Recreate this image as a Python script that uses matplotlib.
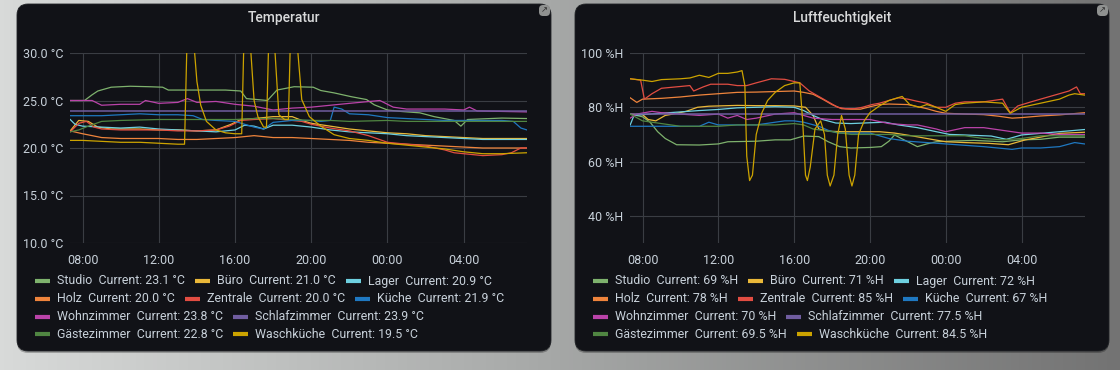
import numpy as np
import matplotlib
matplotlib.use('Agg')
import matplotlib.pyplot as plt
from matplotlib.patches import FancyBboxPatch
from matplotlib.colors import LinearSegmentedColormap

W, H = 1120, 370

names = ['Studio', 'Büro', 'Lager', 'Holz', 'Zentrale', 'Küche',
         'Wohnzimmer', 'Schlafzimmer', 'Gästezimmer', 'Waschküche']
colors = ['#7EB26D', '#EAB839', '#6ED0E0', '#EF843C', '#E24D42', '#1F78C1',
          '#BA43A9', '#705DA0', '#508642', '#CCA300']
temp_current = ['23.1', '21.0', '20.9', '20.0', '20.0', '21.9', '23.8', '23.9', '22.8', '19.5']
hum_current = ['69', '71', '72', '78', '85', '67', '70', '77.5', '69.5', '84.5']

x_ticks = [8, 12, 16, 20, 24, 28]
x_labels = ['08:00', '12:00', '16:00', '20:00', '00:00', '04:00']
temp_ticks = [10, 15, 20, 25, 30]
temp_labels = ['10.0 °C', '15.0 °C', '20.0 °C', '25.0 °C', '30.0 °C']
hum_ticks = [40, 60, 80, 100]
hum_labels = ['40 %H', '60 %H', '80 %H', '100 %H']

# Temperatur: (Stunde, °C), 24 = Mitternacht
t_studio = [(7.35, 25.0), (8.1, 25.0), (8.5, 25.6), (8.8, 26.0), (9.5, 26.4), (10.5, 26.5),
            (11.5, 26.45), (12.2, 26.4), (12.5, 26.1), (14.0, 26.1), (15.5, 26.1), (16.3, 26.0),
            (16.6, 25.2), (17.7, 25.0), (18.2, 26.1), (19.1, 26.45), (20.1, 26.4), (20.5, 26.05),
            (21.2, 25.8), (22.1, 25.4), (22.9, 25.1), (23.3, 24.55), (24.0, 24.0), (24.7, 23.85),
            (25.7, 23.7), (26.45, 23.3), (27.5, 22.9), (27.85, 22.3), (28.2, 23.0), (30.0, 23.15),
            (31.32, 23.1)]
t_buero = [(7.35, 21.8), (7.8, 22.9), (8.3, 22.8), (8.8, 22.2), (9.5, 22.0), (11.0, 22.0),
           (12.0, 21.9), (13.0, 21.9), (14.0, 21.8), (15.0, 21.9), (15.8, 22.5), (16.3, 23.0),
           (17.0, 23.1), (18.0, 23.3), (19.0, 23.3), (19.5, 22.9), (20.0, 22.6), (21.0, 22.3),
           (22.0, 22.0), (23.0, 21.8), (24.0, 21.6), (25.0, 21.5), (26.0, 21.3), (27.0, 21.2),
           (28.0, 21.1), (29.0, 21.0), (31.32, 21.0)]
t_lager = [(7.35, 23.0), (7.6, 22.5), (8.0, 22.3), (9.0, 22.2), (10.0, 22.1), (11.0, 22.2),
           (12.0, 22.0), (13.0, 21.9), (14.0, 21.8), (15.0, 21.7), (16.0, 21.9), (16.5, 22.4),
           (17.0, 22.3), (17.5, 22.0), (18.0, 22.4), (19.0, 22.4), (20.0, 22.2), (21.0, 21.9),
           (22.0, 21.7), (23.0, 21.6), (24.0, 21.5), (25.0, 21.3), (26.0, 21.2), (27.0, 21.1),
           (28.0, 21.0), (29.0, 20.9), (31.32, 20.9)]
t_holz = [(7.35, 21.8), (8.0, 21.5), (9.0, 21.1), (10.0, 21.0), (12.0, 21.0), (13.0, 20.9),
          (14.0, 20.9), (15.0, 21.0), (16.0, 21.1), (17.0, 21.3), (18.0, 21.1), (19.0, 21.1),
          (20.0, 21.0), (21.0, 20.9), (22.0, 20.8), (23.0, 20.6), (24.0, 20.5), (25.0, 20.4),
          (26.0, 20.3), (27.0, 20.2), (28.0, 20.1), (29.0, 20.0), (31.32, 20.0)]
t_zentrale = [(7.35, 21.7), (7.8, 22.6), (8.2, 22.8), (8.6, 22.2), (9.0, 22.0), (10.0, 21.9),
              (12.0, 21.9), (13.0, 21.8), (14.0, 21.8), (15.0, 21.9), (15.7, 22.3), (16.3, 22.9),
              (17.0, 23.0), (18.0, 23.1), (18.5, 23.0), (19.0, 22.9), (19.5, 22.8), (20.0, 22.5),
              (21.0, 22.1), (22.0, 21.8), (23.0, 21.3), (24.0, 20.6), (25.0, 20.4), (26.0, 20.2),
              (27.0, 19.8), (27.5, 19.5), (28.0, 19.4), (29.0, 19.2), (30.0, 19.3), (30.5, 19.5),
              (31.0, 20.0), (31.32, 20.0)]
t_kueche = [(7.35, 23.4), (9.0, 23.4), (10.0, 23.5), (11.0, 23.6), (12.0, 23.5), (13.0, 23.5),
            (13.8, 23.4), (14.3, 23.0), (15.0, 22.9), (16.0, 22.8), (16.5, 22.5), (17.0, 22.2),
            (17.5, 22.0), (18.0, 22.7), (19.0, 22.9), (20.0, 22.9), (20.5, 22.8), (21.0, 22.9),
            (21.2, 24.3), (21.6, 24.1), (22.0, 23.6), (23.0, 23.5), (24.0, 23.2), (25.0, 23.1),
            (26.0, 23.0), (27.0, 22.9), (30.0, 22.9), (30.6, 22.8), (31.0, 22.1), (31.32, 21.9)]
t_wohnzimmer = [(7.35, 25.0), (8.5, 25.0), (9.0, 24.5), (10.0, 24.6), (11.0, 24.6), (11.3, 25.0),
                (12.0, 24.7), (13.0, 24.8), (13.5, 25.2), (14.0, 24.8), (15.0, 24.9), (16.0, 24.6),
                (17.0, 24.4), (18.0, 24.0), (19.0, 24.2), (20.0, 24.3), (21.0, 24.5), (22.0, 24.7),
                (23.6, 25.0), (24.3, 24.3), (25.0, 24.1), (27.0, 24.1), (28.0, 24.0), (28.3, 24.3),
                (28.7, 23.9), (30.0, 23.85), (31.32, 23.8)]
t_schlafzimmer = [(7.35, 23.9), (31.32, 23.9)]
t_gaeste = [(7.35, 21.7), (7.8, 21.9), (8.3, 22.3), (9.0, 22.8), (10.0, 22.9), (12.0, 23.0),
            (16.0, 23.0), (17.0, 23.1), (18.0, 23.1), (19.0, 23.0), (20.0, 22.9), (21.0, 22.9),
            (22.0, 22.8), (24.0, 22.9), (25.0, 22.8), (31.32, 22.8)]
t_wasch = [(7.35, 20.8), (8.0, 20.8), (9.0, 20.7), (10.0, 20.6), (11.0, 20.6), (12.0, 20.5),
           (13.0, 20.4), (13.35, 20.4), (13.5, 33.0), (13.65, 35.0), (13.8, 32.0), (14.0, 27.0),
           (14.2, 24.5), (14.5, 22.8), (15.0, 21.9), (15.5, 21.6), (16.0, 21.5), (16.35, 21.5),
           (16.45, 30.0), (16.6, 33.0), (16.8, 31.0), (17.0, 25.0), (17.2, 23.3), (17.5, 22.2),
           (17.65, 22.2), (17.75, 30.0), (17.9, 33.0), (18.1, 30.0), (18.3, 23.5), (18.6, 23.0),
           (18.8, 23.0), (18.9, 31.0), (19.1, 33.0), (19.3, 30.0), (19.5, 25.1), (19.9, 23.3),
           (20.5, 22.3), (21.2, 21.4), (22.0, 21.0), (23.0, 20.8), (24.0, 20.5), (25.0, 20.3),
           (26.0, 20.1), (27.0, 19.9), (28.0, 19.6), (29.0, 19.4), (30.0, 19.4), (31.32, 19.5)]

# Luftfeuchtigkeit: (Stunde, %H)
h_studio = [(7.35, 77.5), (8.0, 76.5), (8.4, 74.5), (8.8, 71.0), (9.2, 68.5), (9.8, 66.2),
            (11.0, 66.1), (12.0, 66.5), (12.5, 67.3), (14.0, 67.5), (15.0, 68.0), (15.8, 68.0),
            (16.5, 69.4), (17.3, 69.2), (17.8, 67.3), (18.4, 65.5), (19.0, 65.0), (20.0, 65.2),
            (20.6, 65.5), (21.0, 67.5), (21.3, 69.8), (21.8, 68.0), (22.5, 65.5), (23.0, 66.5),
            (23.5, 67.3), (24.5, 67.6), (25.5, 67.8), (26.4, 67.5), (27.0, 67.3), (28.0, 68.0),
            (29.0, 68.2), (30.0, 69.0), (31.32, 69.0)]
h_buero = [(7.35, 77.5), (8.0, 77.3), (8.3, 75.5), (8.7, 75.0), (9.2, 77.0), (9.6, 77.5),
           (10.3, 78.5), (10.9, 80.0), (11.5, 80.4), (12.0, 80.5), (13.0, 80.7), (14.0, 80.6),
           (15.0, 80.6), (16.0, 80.5), (16.6, 80.0), (17.0, 77.0), (17.3, 72.0), (17.8, 71.2),
           (18.5, 71.0), (20.5, 71.0), (21.3, 70.5), (22.2, 69.5), (23.0, 68.5), (24.0, 67.3),
           (25.0, 67.0), (26.3, 66.7), (27.3, 66.2), (28.2, 68.0), (29.0, 69.0), (30.0, 70.4),
           (31.32, 70.8)]
h_lager = [(7.35, 73.5), (7.55, 77.0), (8.0, 77.3), (9.0, 77.8), (10.0, 78.3), (11.0, 78.8),
           (12.0, 79.2), (13.0, 79.8), (14.0, 80.0), (15.0, 80.2), (16.0, 80.0), (16.5, 78.8),
           (17.0, 77.0), (17.5, 75.5), (18.2, 74.2), (19.0, 74.0), (20.0, 74.3), (20.8, 74.5),
           (21.5, 73.5), (22.5, 72.5), (23.5, 71.0), (24.2, 70.0), (25.0, 69.8), (26.4, 69.4),
           (27.2, 68.2), (28.0, 69.8), (29.0, 70.4), (30.0, 71.0), (31.32, 71.8)]
h_holz = [(7.35, 83.5), (7.7, 81.8), (8.0, 83.0), (9.0, 83.3), (10.0, 83.8), (11.0, 84.5),
          (12.0, 85.0), (13.0, 85.5), (14.0, 85.6), (15.0, 85.8), (16.0, 86.0), (16.5, 85.5),
          (17.0, 84.8), (17.5, 83.0), (18.0, 81.0), (18.5, 79.5), (19.0, 79.3), (19.5, 79.3),
          (20.0, 80.2), (20.5, 81.0), (21.0, 81.2), (22.0, 81.0), (23.0, 79.5), (23.5, 78.5),
          (24.0, 77.8), (25.0, 77.5), (26.0, 77.3), (26.8, 76.7), (27.5, 76.0), (28.0, 76.2),
          (29.0, 76.8), (30.0, 77.2), (31.32, 78.0)]
h_zentrale = [(7.35, 90.5), (7.9, 90.0), (8.1, 83.0), (8.5, 85.0), (9.0, 87.0), (10.5, 88.0),
              (10.7, 86.0), (11.2, 87.5), (11.6, 88.5), (12.5, 88.5), (13.0, 88.0), (13.5, 88.0),
              (14.0, 89.0), (14.8, 90.5), (15.5, 90.3), (16.0, 89.5), (16.3, 89.0), (16.8, 86.0),
              (17.3, 84.0), (17.8, 82.0), (18.3, 80.0), (18.7, 79.5), (19.2, 79.5), (19.6, 80.0),
              (20.1, 81.0), (20.5, 81.5), (21.0, 82.5), (21.5, 83.5), (22.0, 83.0), (22.5, 82.2),
              (23.0, 81.5), (23.5, 80.0), (24.0, 80.0), (24.5, 81.5), (25.0, 82.0), (26.0, 82.0),
              (26.5, 82.5), (27.0, 83.0), (27.4, 78.0), (27.8, 80.5), (28.5, 82.0), (29.0, 83.0),
              (29.5, 84.0), (30.0, 85.0), (30.5, 86.0), (30.9, 87.5), (31.1, 85.0), (31.32, 85.0)]
h_kueche = [(7.35, 73.0), (8.0, 73.0), (11.0, 73.0), (11.5, 74.5), (12.0, 73.5), (14.0, 73.5),
            (14.5, 74.0), (15.5, 75.0), (16.0, 75.0), (16.5, 74.5), (17.3, 73.0), (17.8, 71.5),
            (18.3, 70.5), (20.0, 70.5), (20.5, 69.5), (21.0, 68.5), (22.0, 67.5), (23.0, 67.0),
            (24.0, 66.5), (25.0, 66.0), (26.0, 65.5), (27.5, 64.5), (28.0, 65.0), (29.0, 65.0),
            (30.0, 65.5), (30.8, 67.0), (31.32, 66.5)]
h_wohnzimmer = [(7.35, 76.0), (7.7, 77.5), (8.5, 78.5), (9.0, 78.0), (10.0, 77.5), (11.0, 77.0),
                (12.0, 77.5), (12.5, 76.0), (13.0, 77.0), (13.5, 75.5), (14.0, 76.0), (15.0, 77.5),
                (16.0, 78.0), (16.5, 77.0), (17.0, 76.0), (18.0, 75.5), (20.0, 75.5), (21.0, 74.0),
                (22.0, 73.5), (22.5, 73.5), (23.5, 72.0), (24.0, 71.0), (25.0, 72.5), (26.0, 72.5),
                (27.0, 71.5), (28.0, 70.5), (29.0, 70.5), (30.0, 70.0), (31.32, 70.0)]
h_schlafzimmer = [(7.35, 77.5), (31.32, 77.5)]
h_gaeste = [(7.35, 77.5), (8.0, 75.0), (9.0, 74.0), (10.0, 73.0), (12.0, 73.0), (13.0, 73.5),
            (15.0, 73.5), (16.0, 74.0), (16.5, 73.5), (17.0, 72.0), (18.0, 71.0), (19.0, 70.0),
            (21.0, 70.0), (22.0, 69.5), (25.0, 69.5), (26.0, 68.5), (27.0, 68.0), (28.0, 68.5),
            (29.0, 69.5), (31.32, 69.5)]
h_wasch = [(7.35, 90.5), (8.0, 90.0), (8.5, 89.5), (9.0, 90.2), (10.0, 90.5), (10.5, 90.8),
           (11.0, 91.8), (11.5, 91.0), (12.0, 92.5), (12.5, 92.5), (13.0, 93.0), (13.25, 93.5),
           (13.4, 88.0), (13.5, 62.0), (13.65, 53.0), (13.8, 55.0), (14.0, 70.0), (14.3, 78.0),
           (14.6, 82.5), (15.0, 85.5), (15.5, 88.0), (16.0, 89.0), (16.3, 89.0), (16.45, 75.0),
           (16.6, 55.0), (16.7, 53.0), (16.85, 58.0), (17.1, 72.0), (17.4, 75.0), (17.6, 70.0),
           (17.75, 55.0), (17.9, 51.0), (18.1, 55.0), (18.3, 70.0), (18.5, 77.0), (18.7, 72.0),
           (18.9, 55.0), (19.05, 51.0), (19.2, 55.0), (19.4, 70.0), (19.7, 75.0), (20.0, 78.0),
           (20.5, 80.5), (21.0, 82.5), (21.7, 84.0), (22.1, 81.0), (22.6, 80.0), (23.0, 81.0),
           (23.5, 80.0), (24.0, 78.5), (24.5, 81.0), (25.0, 81.5), (26.0, 82.0), (27.0, 81.5),
           (27.4, 77.8), (28.0, 80.0), (29.0, 81.5), (30.0, 83.0), (30.5, 84.5), (30.8, 85.0),
           (31.32, 84.5)]

temp_series = [t_studio, t_buero, t_lager, t_holz, t_zentrale, t_kueche,
               t_wohnzimmer, t_schlafzimmer, t_gaeste, t_wasch]
hum_series = [h_studio, h_buero, h_lager, h_holz, h_zentrale, h_kueche,
              h_wohnzimmer, h_schlafzimmer, h_gaeste, h_wasch]

legend_rows = [[0, 1, 2], [3, 4, 5], [6, 7], [8, 9]]

plt.rcParams['font.family'] = ['Roboto', 'DejaVu Sans']

fig = plt.figure(figsize=(W / 100, H / 100), dpi=100)

# Hintergrund in Pixelkoordinaten
bg = fig.add_axes([0, 0, 1, 1])
bg.set_xlim(0, W)
bg.set_ylim(H, 0)
bg.axis('off')
grad = LinearSegmentedColormap.from_list('bg', ['#d8dad9', '#a5a7a6', '#737373'])
bg.imshow(np.linspace(0, 1, 256)[None, :], cmap=grad, aspect='auto',
          extent=[0, W, H, 0], zorder=0)

TEXT = '#c7d0d9'
PANEL = '#111217'
GRID = '#3a3d43'


def panel(x0, x1, title):
    y0, y1 = 4, 351
    bg.add_patch(FancyBboxPatch((x0, y0 + 2), x1 - x0, y1 - y0, boxstyle='round,pad=0,rounding_size=11',
                                fc='black', ec='none', alpha=0.25, zorder=1))
    bg.add_patch(FancyBboxPatch((x0, y0), x1 - x0, y1 - y0, boxstyle='round,pad=0,rounding_size=11',
                                fc=PANEL, ec='#202226', lw=0.6, zorder=2))
    bg.text((x0 + x1) / 2, 18, title, ha='center', va='center', color='#d8d9da',
            fontsize=10, fontweight='medium', zorder=3)
    bg.add_patch(FancyBboxPatch((x1 - 12, y0 + 1), 11, 11, boxstyle='round,pad=0,rounding_size=4',
                                fc='#8f9190', ec='none', zorder=3))
    bg.text(x1 - 6.5, y0 + 6.5, '↗', ha='center', va='center', color='#2a2a2a',
            fontsize=6, zorder=4)


def chart(rect, series, yticks, ylabels, ylim):
    ax = fig.add_axes([rect[0] / W, 1 - rect[3] / H, (rect[2] - rect[0]) / W, (rect[3] - rect[1]) / H])
    ax.set_facecolor('none')
    for pts, c, n in zip(series, colors, names):
        x = [p[0] for p in pts]
        y = [p[1] for p in pts]
        ax.plot(x, y, color=c, lw=1.1 if n == 'Schlafzimmer' else 0.9)
    ax.set_xlim(7.34, 31.32)
    ax.set_ylim(*ylim)
    ax.set_xticks(x_ticks)
    ax.set_xticklabels(x_labels)
    ax.set_yticks(yticks)
    ax.set_yticklabels(ylabels)
    ax.grid(True, color=GRID, lw=0.8)
    ax.set_axisbelow(True)
    for s in ax.spines.values():
        s.set_visible(False)
    ax.tick_params(length=0, colors=TEXT, labelsize=9)
    ax.tick_params(axis='x', pad=8)
    ax.tick_params(axis='y', pad=5)
    return ax


def legend(x0, currents, unit):
    renderer = fig.canvas.get_renderer()
    ys = [281, 299, 316.5, 334]
    for row, y in zip(legend_rows, ys):
        x = x0
        for i in row:
            bg.plot([x, x + 15], [y, y], color=colors[i], lw=3, solid_capstyle='butt', zorder=3)
            t = bg.text(x + 22, y, names[i] + '  Current: ' + currents[i] + ' ' + unit,
                        ha='left', va='center', color=TEXT, fontsize=8.9, zorder=3)
            w = t.get_window_extent(renderer).width
            x = x + 22 + w + 10


panel(17, 551, 'Temperatur')
panel(575, 1109, 'Luftfeuchtigkeit')

chart((70, 53, 527, 243), temp_series, temp_ticks, temp_labels, (10, 30))
chart((630, 53, 1084.5, 243), hum_series, hum_ticks, hum_labels, (30, 100))

legend(35, temp_current, '°C')
legend(593, hum_current, '%H')

fig.savefig('out.png', dpi=100)
